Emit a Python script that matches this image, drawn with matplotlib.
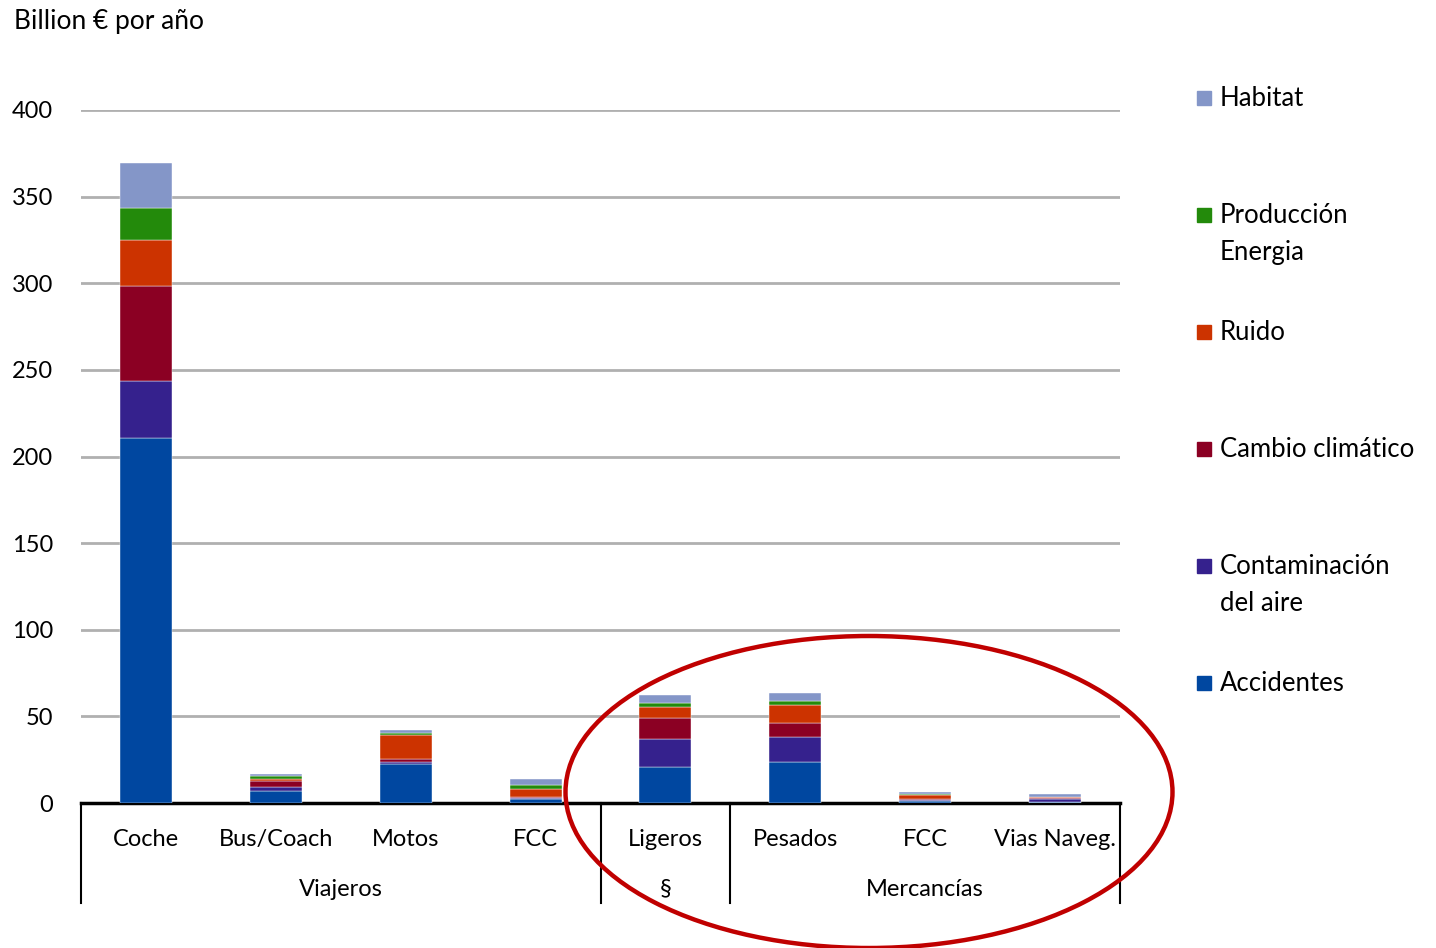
import matplotlib
matplotlib.use("Agg")
import matplotlib.pyplot as plt
from matplotlib.patches import Ellipse
import numpy as np

plt.rcParams['font.family'] = ['Lato', 'DejaVu Sans']

categories = ["Coche", "Bus/Coach", "Motos", "FCC", "Ligeros", "Pesados", "FCC", "Vias Naveg."]
groups = [("Viajeros", 0, 3), ("§", 4, 4), ("Mercancías", 5, 7)]

accidentes = [210.7, 6.9, 22.3, 2.1, 21.0, 23.7, 0.9, 0.5]
contaminacion = [33.0, 2.5, 1.5, 0.8, 15.8, 14.3, 1.1, 2.0]
cambio = [55.0, 3.5, 1.4, 0.8, 12.5, 8.4, 0.5, 0.6]
ruido = [26.0, 1.2, 14.0, 4.4, 6.0, 10.0, 2.2, 0.2]
produccion = [18.5, 1.2, 1.3, 2.5, 2.7, 2.7, 0.3, 0.3]
habitat = [26.0, 1.4, 1.6, 3.1, 4.4, 4.6, 1.6, 1.5]

series = [
    ("Accidentes", accidentes, "#0047A0"),
    ("Contaminación\ndel aire", contaminacion, "#35218D"),
    ("Cambio climático", cambio, "#8B0023"),
    ("Ruido", ruido, "#CC3300"),
    ("Producción\nEnergia", produccion, "#238A0B"),
    ("Habitat", habitat, "#8496C8"),
]

W, H = 1436, 948
fig = plt.figure(figsize=(W / 100, H / 100), dpi=100)
ax = fig.add_axes([81 / W, 1 - 803 / H, (1120 - 81) / W, (803 - 110) / H])

x = np.arange(len(categories))
bottom = np.zeros(len(categories))
for name, vals, color in series:
    ax.bar(x, vals, 0.4, bottom=bottom, color=color, edgecolor="white",
           linewidth=0.3, zorder=3, label=name)
    bottom += np.array(vals)

ax.set_xlim(-0.5, len(categories) - 0.5)
ax.set_ylim(0, 400)
ax.set_yticks(range(0, 401, 50))
ax.yaxis.grid(True, color="#B0B0B0", linewidth=2, zorder=0)
ax.set_axisbelow(True)
for s in ["top", "right", "left"]:
    ax.spines[s].set_visible(False)
ax.spines["bottom"].set_linewidth(2.5)
ax.spines["bottom"].set_color("black")
ax.tick_params(axis="y", length=0, labelsize=17, pad=20)
ax.tick_params(axis="x", length=0, labelsize=17, pad=19)
ax.set_xticks(x)
ax.set_xticklabels(categories)

# group separators and labels below the axis
trans = ax.get_xaxis_transform()
for pos in [-0.5, 3.5, 4.5, 7.5]:
    ax.plot([pos, pos], [0, -100 / 693], color="black", linewidth=1.5,
            transform=trans, clip_on=False)
for label, a, b in groups:
    ax.text((a + b) / 2, -86 / 693, label, transform=trans, ha="center",
            va="center", fontsize=17)

fig.text(14 / W, 1 - 22 / H, "Billion € por año", fontsize=19, ha="left", va="center")

# legend on the right
legend_items = [
    ("Habitat", "#8496C8", 98),
    ("Producción\nEnergia", "#238A0B", 215),
    ("Ruido", "#CC3300", 332),
    ("Cambio climático", "#8B0023", 449),
    ("Contaminación\ndel aire", "#35218D", 566),
    ("Accidentes", "#0047A0", 683),
]
for text, color, yp in legend_items:
    fig.patches.append(plt.Rectangle((1197 / W, 1 - (yp + 7) / H), 14 / W, 14 / H,
                                     transform=fig.transFigure, color=color))
    fig.text(1220 / W, 1 - (yp - 12) / H, text, fontsize=18.5, ha="left", va="top",
             linespacing=1.6)

ell = Ellipse((869 / W, 1 - 792 / H), 607 / W, 312 / H, transform=fig.transFigure,
              fill=False, edgecolor="#C00000", linewidth=3.2)
fig.add_artist(ell)

fig.savefig("out.png", dpi=100)
